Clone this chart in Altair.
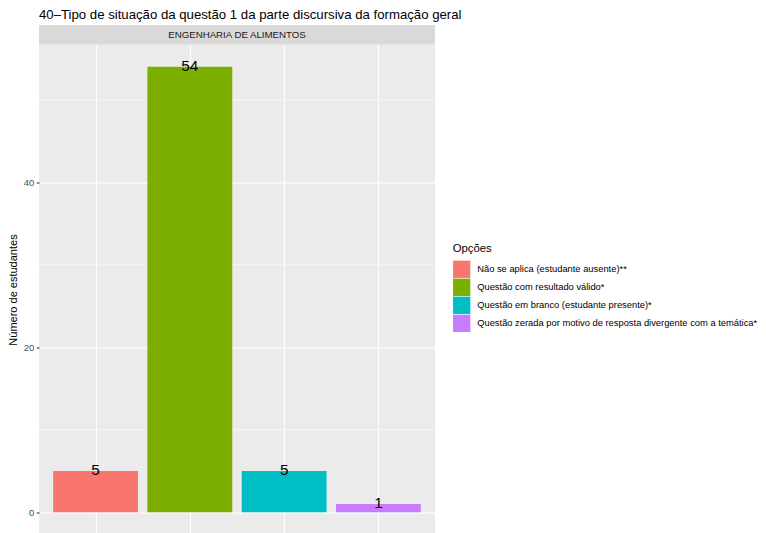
import altair as alt
import pandas as pd

title_text = "40–Tipo de situação da questão 1 da parte discursiva da formação geral"
facet_label = "ENGENHARIA DE ALIMENTOS"
categories = [
    "Não se aplica (estudante ausente)**",
    "Questão com resultado válido*",
    "Questão em branco (estudante presente)*",
    "Questão zerada por motivo de resposta divergente com a temática*",
]
values = [5, 54, 5, 1]
colors = ["#F8766D", "#7CAE00", "#00BFC4", "#C77CFF"]
y_ticks = [0, 20, 40]
y_minor = [10, 30, 50]

W, H = 396, 490
FONT = "Liberation Sans"

df = pd.DataFrame({"cat": categories, "n": values, "pos": list(range(1, len(categories) + 1))})
df["x0"] = df["pos"] - 0.45
df["x1"] = df["pos"] + 0.45
df["zero"] = 0

xscale = alt.Scale(domain=[0.4, 4.6], nice=False, zero=False)
yscale = alt.Scale(domain=[-2.7, 56.7], nice=False, zero=False)

xaxis = alt.Axis(values=[1, 2, 3, 4], labels=False, ticks=False, domain=False, title=None,
                 grid=True, gridColor="white", gridWidth=1.1)
yaxis = alt.Axis(values=y_ticks, title="Número de estudantes", grid=True, gridColor="white",
                 gridWidth=1.1, domain=False, tickColor="#333333", tickSize=2.75, tickWidth=1.1,
                 labelColor="#4D4D4D", labelFontSize=9.6, labelPadding=2.3, titleFontSize=11,
                 titleColor="black", titleFontWeight="normal", titlePadding=5)

minor = alt.Chart(pd.DataFrame({"m": y_minor})).mark_rule(color="white", strokeWidth=0.55).encode(
    y=alt.Y("m:Q", scale=yscale, axis=yaxis)
)

bars = alt.Chart(df).mark_rect().encode(
    x=alt.X("x0:Q", scale=xscale, axis=xaxis),
    x2="x1:Q",
    y=alt.Y("n:Q", scale=yscale, axis=yaxis),
    y2="zero:Q",
    color=alt.Color(
        "cat:N",
        scale=alt.Scale(domain=categories, range=colors),
        legend=alt.Legend(
            title="Opções", orient="none", legendX=413.7, legendY=198.5,
            symbolType="square", symbolSize=299, symbolStrokeWidth=0, symbolOpacity=1,
            labelFontSize=9.35, labelColor="black", titleFontSize=11.3, titleFontWeight="normal",
            titleColor="black", rowPadding=0, labelOffset=6.5, titlePadding=6, padding=0,
            labelLimit=0, offset=0,
        ),
    ),
)

labels = alt.Chart(df).mark_text(fontSize=15.3, baseline="middle", align="center", color="black", dy=-0.5).encode(
    x=alt.X("pos:Q", scale=xscale, axis=xaxis),
    y=alt.Y("n:Q", scale=yscale, axis=yaxis),
    text="n:Q",
)

one = pd.DataFrame({"t": [facet_label], "title": [title_text]})
strip = alt.Chart(one).mark_rect(color="#D9D9D9").encode(
    x=alt.value(0), x2=alt.value(W), y=alt.value(-19.5), y2=alt.value(0)
)
strip_text = alt.Chart(one).mark_text(fontSize=9.7, color="#1A1A1A", baseline="middle", align="center").encode(
    x=alt.value(W / 2), y=alt.value(-9.75), text="t:N"
)
title = alt.Chart(one).mark_text(fontSize=13.2, color="black", baseline="alphabetic", align="left").encode(
    x=alt.value(0), y=alt.value(-26), text="title:N"
)

chart = alt.layer(minor, bars, labels, strip, strip_text, title).properties(
    width=W, height=H,
    autosize=alt.AutoSizeParams(type="none"),
    padding={"left": 31, "top": 36.5, "right": 323, "bottom": 0},
).configure(font=FONT).configure_view(fill="#EBEBEB", stroke=None)

chart.save("out.html", embed_options={"renderer": "svg", "actions": False})
